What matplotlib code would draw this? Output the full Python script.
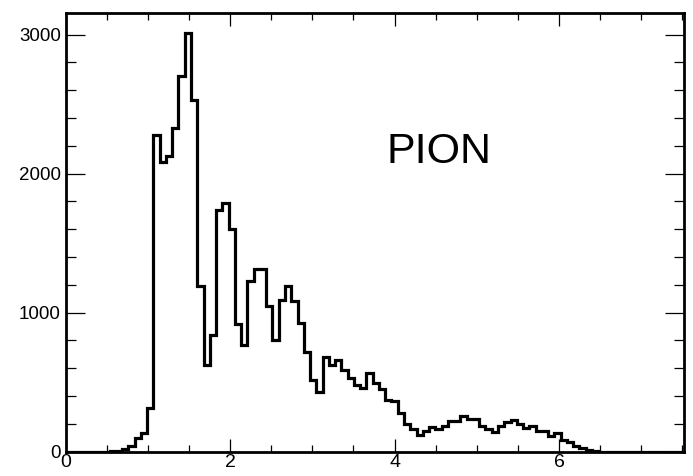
import numpy as np
import matplotlib
matplotlib.use("Agg")
import matplotlib.pyplot as plt
from matplotlib.ticker import MultipleLocator

plt.rcParams['font.family'] = ['Liberation Sans', 'DejaVu Sans']

# Histogram definition
bin_width = 0.0762
counts = [
    0, 0, 0, 0, 0, 0, 0, 1, 3,            # bins 0-8
    20, 40, 100, 130, 310,                # 9-13
    2280, 2080, 2125, 2330, 2700, 3010,   # 14-19
    2530, 1190, 620, 835, 1740, 1785,     # 20-25
    1600, 920, 765, 1230, 1310, 1310,     # 26-31
    1050, 800, 1090, 1190, 1086, 923,     # 32-37
    719, 516, 427, 678, 624, 660,         # 38-43
    583, 530, 475, 458, 563, 495,         # 44-49
    451, 372, 362, 276, 199, 163,         # 50-55
    122, 151, 175, 163, 180, 220,         # 56-61
    220, 259, 235, 235, 187, 163,         # 62-67
    139, 187, 211, 228, 199, 170,         # 68-73
    180, 151, 151, 115, 132, 84,          # 74-79
    67, 36, 24, 12, 3,                    # 80-84
    0, 0, 0, 0, 0, 0, 0, 0, 0, 0, 0, 0, 0, 0,  # 85-98
]
edges = np.arange(len(counts) + 1) * bin_width

x_ticks = [0, 2, 4, 6]
y_ticks = [0, 1000, 2000, 3000]
label_text = "PION"

W, H = 693, 476
fig = plt.figure(figsize=(W / 100, H / 100), dpi=100)
ax = fig.add_axes([65.7 / W, 1 - 451.5 / H, (684 - 65.7) / W, (451.5 - 13) / H])

ax.stairs(counts, edges, color='black', linewidth=2.3, baseline=0)

ax.set_xlim(0, 7.52)
ax.set_ylim(0, 3155)

ax.xaxis.set_major_locator(plt.FixedLocator(x_ticks))
ax.xaxis.set_minor_locator(MultipleLocator(0.5))
ax.yaxis.set_major_locator(plt.FixedLocator(y_ticks))
ax.yaxis.set_minor_locator(MultipleLocator(200))

ax.tick_params(axis='x', which='both', direction='in', top=True, bottom=True,
               labelsize=14, pad=2, width=0.9, colors='black')
ax.tick_params(axis='x', which='major', length=9.5)
ax.tick_params(axis='x', which='minor', length=4.8)
ax.tick_params(axis='y', which='both', direction='in', left=True, right=True,
               labelsize=13.5, pad=3.5, width=0.9)
ax.tick_params(axis='y', which='major', length=14)
ax.tick_params(axis='y', which='minor', length=7)

for s in ax.spines.values():
    s.set_linewidth(2.0)
    s.set_color('black')

ax.text(0.519, 0.658, label_text, transform=ax.transAxes, fontsize=31,
        ha='left', va='baseline', color='black')

fig.savefig("out.png", dpi=100)
